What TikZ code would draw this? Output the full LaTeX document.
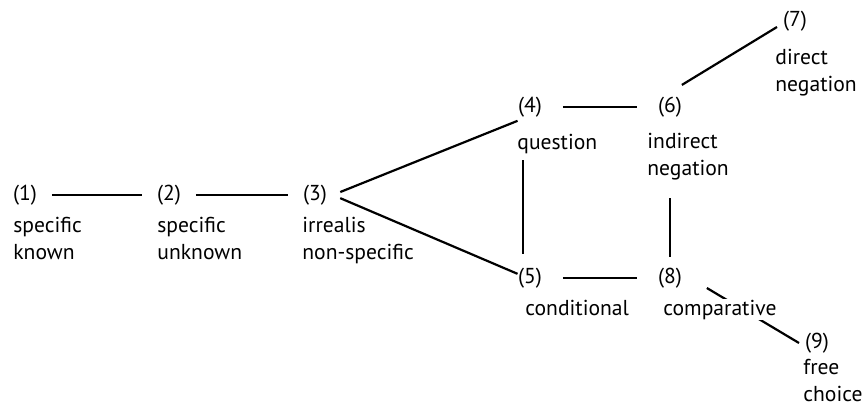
\documentclass[tikz,border=0pt]{standalone}
\usepackage{fontspec}
\setmainfont{PT Sans}
\usetikzlibrary{positioning, backgrounds}

\begin{document}
\begin{tikzpicture}[
    x=0.5pt, y=-0.5pt,
    num/.style={inner sep=0pt, outer sep=3pt, anchor=west, font=\fontsize{10.8}{13.5}\selectfont},
    desc/.style={inner sep=0pt, anchor=north west, align=left, font=\fontsize{10.8}{13.5}\selectfont, execute at begin node={\rule{0pt}{8pt}}},
    link/.style={line width=1.1pt},
    hlink/.style={link, shorten <=4.5pt, shorten >=4.5pt},
    wlink/.style={link, shorten <=7.5pt, shorten >=7.5pt}
]
    \useasboundingbox (0,0) rectangle (864,407);

    % Numbered functions
    \node[num] (n1) at (7,195) {(1)};
    \node[num] (n2) at (151,195) {(2)};
    \node[num] (n3) at (297,195) {(3)};
    \node[num] (n4) at (512,107) {(4)};
    \node[num] (n5) at (512,278) {(5)};
    \node[num] (n6) at (652,107) {(6)};
    \node[num] (n7) at (777,21) {(7)};
    \node[num] (n8) at (652,278) {(8)};
    \node[num] (n9) at (799,343) {(9)};

    % Function labels
    \node[desc] (d1) at (13,217) {specific\\known};
    \node[desc] (d2) at (157,217) {specific\\unknown};
    \node[desc] (d3) at (302,217) {irrealis\\non-specific};
    \node[desc] (d4) at (517,133) {question};
    \node[desc] (d5) at (525,299) {conditional};
    \node[desc] (d6) at (647,133) {indirect\\negation};
    \node[desc] (d7) at (775,49) {direct\\negation};
    \node[desc, fill=white] (d8) at (663,299) {comparative};
    \node[desc] (d9) at (803,359) {free\\choice};

    % Links of the map
    \draw[hlink] (n1) -- (n2);
    \draw[hlink] (n2) -- (n3);
    \draw[link, shorten <=4pt, shorten >=-3pt] (n3.east) -- (n4.south west);
    \draw[link, shorten <=4pt, shorten >=-3pt] (n3.east) -- (n5.160);
    \draw[wlink] (n4) -- (n6);
    \draw[wlink] (n5) -- (n8);
    \draw[link] ([shift={(-3.5pt,-18.5pt)}]n4.south) -- ([shift={(-3.5pt,4pt)}]n5.north);
    \draw[link] ([yshift=-37.5pt]n6.south) -- ([yshift=2.5pt]n8.north);
    \draw[link] ([shift={(-3pt,3pt)}]n6.north east) -- ([yshift=-3pt]n7.west);
    \begin{scope}[on background layer]
        \draw[link] ([shift={(9.5pt,-5pt)}]n8.east) -- (n9.west);
    \end{scope}
\end{tikzpicture}
\end{document}
